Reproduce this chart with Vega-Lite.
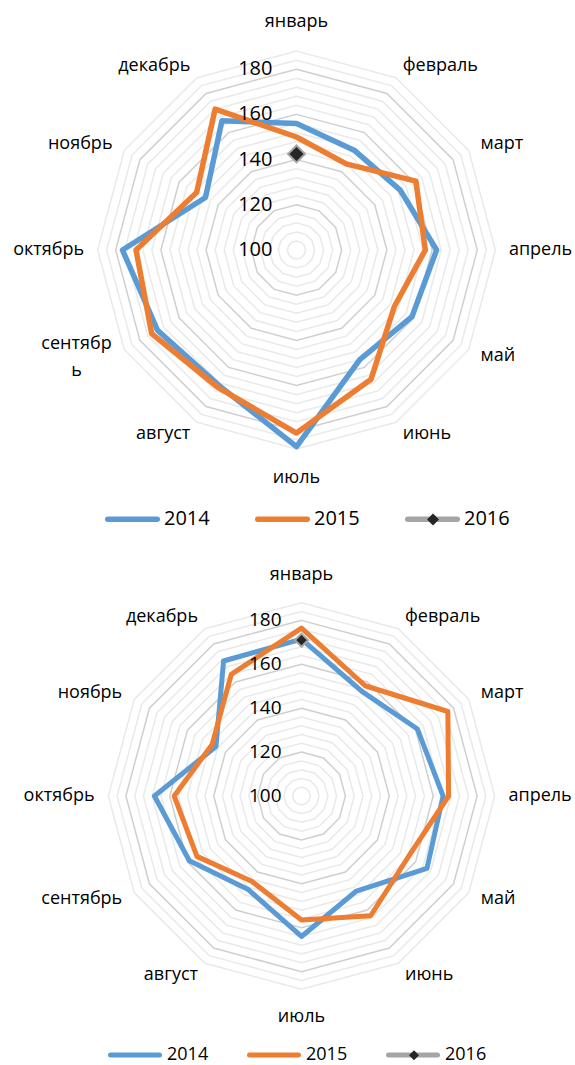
{
  "$schema": "https://vega.github.io/schema/vega-lite/v6.json",
  "padding": 0,
  "spacing": 0,
  "bounds": "flush",
  "config": {"view": {"stroke": null}, "font": "Open Sans", "text": {"color": "#000000"}},
  "datasets": {
    "top": [
      {"month": "январь", "2014": 156, "2015": 150, "2016": 142.5},
      {"month": "февраль", "2014": 151, "2015": 144},
      {"month": "март", "2014": 153, "2015": 161},
      {"month": "апрель", "2014": 162, "2015": 157},
      {"month": "май", "2014": 159, "2015": 150},
      {"month": "июнь", "2014": 156, "2015": 166},
      {"month": "июль", "2014": 187, "2015": 181},
      {"month": "август", "2014": 169, "2015": 170},
      {"month": "сентябрь", "2014": 171, "2015": 174},
      {"month": "октябрь", "2014": 177, "2015": 171},
      {"month": "ноябрь", "2014": 146.5, "2015": 151},
      {"month": "декабрь", "2014": 166, "2015": 172}
    ],
    "bottom": [
      {"month": "январь", "2014": 171.5, "2015": 176.5, "2016": 171},
      {"month": "февраль", "2014": 155, "2015": 158},
      {"month": "март", "2014": 161, "2015": 177},
      {"month": "апрель", "2014": 164.5, "2015": 167},
      {"month": "май", "2014": 166, "2015": 156},
      {"month": "июнь", "2014": 150, "2015": 163},
      {"month": "июль", "2014": 164, "2015": 156.5},
      {"month": "август", "2014": 149, "2015": 145},
      {"month": "сентябрь", "2014": 159, "2015": 155},
      {"month": "октябрь", "2014": 167, "2015": 158},
      {"month": "ноябрь", "2014": 145, "2015": 147},
      {"month": "декабрь", "2014": 171, "2015": 164}
    ],
    "ticks": [{"tick": 100}, {"tick": 120}, {"tick": 140}, {"tick": 160}, {"tick": 180}]
  },
  "resolve": {
    "scale": {"x": "independent", "y": "independent", "stroke": "independent", "shape": "independent"},
    "legend": {"stroke": "independent", "shape": "independent"}
  },
  "vconcat": [
    {
      "width": 575,
      "height": 532,
      "layer": [
        {
          "data": {"name": "top"},
          "transform": [
            {"window": [{"op": "row_number", "as": "i"}]},
            {"calculate": "[104,108,112,116,120,124,128,132,136,140,144,148,152,156,160,164,168,172,176,180,184,188]", "as": "lv"},
            {"flatten": ["lv"]},
            {"filter": "datum.lv % 20 != 0"},
            {"calculate": "(datum.i-1)*PI/6", "as": "t"},
            {"calculate": "(datum.lv-100)*sin(datum.t)", "as": "x"},
            {"calculate": "(datum.lv-100)*cos(datum.t)", "as": "y"}
          ],
          "mark": {"type": "line", "interpolate": "linear-closed", "stroke": "#e9e9e9", "strokeWidth": 1.5},
          "encoding": {
            "x": {"field": "x", "type": "quantitative", "scale": {"domain": [-131.19, 123.23], "nice": false, "zero": false}, "axis": null},
            "y": {"field": "y", "type": "quantitative", "scale": {"domain": [-124.78, 110.62], "nice": false, "zero": false}, "axis": null},
            "detail": {"field": "lv", "type": "nominal"},
            "order": {"field": "i", "type": "quantitative"}
          }
        },
        {
          "data": {"name": "top"},
          "transform": [
            {"window": [{"op": "row_number", "as": "i"}]},
            {"calculate": "[120,140,160,180]", "as": "lv"},
            {"flatten": ["lv"]},
            {"calculate": "(datum.i-1)*PI/6", "as": "t"},
            {"calculate": "(datum.lv-100)*sin(datum.t)", "as": "x"},
            {"calculate": "(datum.lv-100)*cos(datum.t)", "as": "y"}
          ],
          "mark": {"type": "line", "interpolate": "linear-closed", "stroke": "#cfcfcf", "strokeWidth": 1.5},
          "encoding": {
            "x": {"field": "x", "type": "quantitative", "scale": {"domain": [-131.19, 123.23], "nice": false, "zero": false}, "axis": null},
            "y": {"field": "y", "type": "quantitative", "scale": {"domain": [-124.78, 110.62], "nice": false, "zero": false}, "axis": null},
            "detail": {"field": "lv", "type": "nominal"},
            "order": {"field": "i", "type": "quantitative"}
          }
        },
        {
          "data": {"name": "top"},
          "transform": [
            {"window": [{"op": "row_number", "as": "i"}]},
            {"fold": ["2014", "2015"], "as": ["year", "value"]},
            {"calculate": "(datum.i-1)*PI/6", "as": "t"},
            {"calculate": "(datum.value-100)*sin(datum.t)", "as": "x"},
            {"calculate": "(datum.value-100)*cos(datum.t)", "as": "y"}
          ],
          "mark": {"type": "line", "interpolate": "linear-closed", "strokeWidth": 5.5, "strokeJoin": "round", "strokeCap": "round"},
          "encoding": {
            "x": {"field": "x", "type": "quantitative", "scale": {"domain": [-131.19, 123.23], "nice": false, "zero": false}, "axis": null},
            "y": {"field": "y", "type": "quantitative", "scale": {"domain": [-124.78, 110.62], "nice": false, "zero": false}, "axis": null},
            "order": {"field": "i", "type": "quantitative"},
            "stroke": {
              "field": "year", "type": "nominal",
              "scale": {"domain": ["2014", "2015", "2016"], "range": ["#5B9BD5", "#ED7D31", "#A5A5A5"]},
              "legend": {
                "title": null, "orient": "none", "legendX": 105, "legendY": 491.5, "direction": "horizontal",
                "symbolType": "stroke", "symbolSize": 2450, "symbolStrokeWidth": 5.5,
                "labelFontSize": 20, "labelColor": "#000000", "labelOffset": 4, "columnPadding": 36, "padding": 0,
                "encode": {"symbols": {"update": {"strokeCap": {"value": "round"}}}}
              }
            }
          }
        },
        {
          "data": {"name": "top"},
          "transform": [
            {"window": [{"op": "row_number", "as": "i"}]},
            {"fold": ["2016"], "as": ["year", "value"]},
            {"filter": "isValid(datum.value)"},
            {"calculate": "(datum.i-1)*PI/6", "as": "t"},
            {"calculate": "(datum.value-100)*sin(datum.t)", "as": "x"},
            {"calculate": "(datum.value-100)*cos(datum.t)", "as": "y"}
          ],
          "mark": {"type": "point", "filled": true, "fill": "#262626", "stroke": "#A5A5A5", "strokeWidth": 2, "size": 289, "opacity": 1},
          "encoding": {
            "x": {"field": "x", "type": "quantitative", "scale": {"domain": [-131.19, 123.23], "nice": false, "zero": false}, "axis": null},
            "y": {"field": "y", "type": "quantitative", "scale": {"domain": [-124.78, 110.62], "nice": false, "zero": false}, "axis": null},
            "shape": {
              "field": "year", "type": "nominal",
              "scale": {"domain": ["2016"], "range": ["diamond"]},
              "legend": {
                "title": null, "orient": "none", "legendX": 426, "legendY": 512.5, "zindex": 2,
                "symbolSize": 144, "symbolStrokeWidth": 1.5, "symbolFillColor": "#262626", "symbolStrokeColor": "#A5A5A5",
                "labelExpr": "''", "labelFontSize": 1, "padding": 0
              }
            }
          }
        },
        {
          "data": {"name": "ticks"},
          "transform": [{"calculate": "datum.tick-100", "as": "y"}],
          "mark": {"type": "text", "align": "right", "baseline": "middle", "dx": -24, "fontSize": 20},
          "encoding": {
            "x": {"datum": 0, "type": "quantitative", "scale": {"domain": [-131.19, 123.23], "nice": false, "zero": false}, "axis": null},
            "y": {"field": "y", "type": "quantitative", "scale": {"domain": [-124.78, 110.62], "nice": false, "zero": false}, "axis": null},
            "text": {"field": "tick", "type": "nominal"}
          }
        },
        {
          "data": {"name": "top"},
          "transform": [
            {"window": [{"op": "row_number", "as": "i"}]},
            {"filter": "datum.i >= 2 && datum.i <= 6"},
            {"calculate": "(datum.i-1)*PI/6", "as": "t"},
            {"calculate": "94*sin(datum.t)", "as": "x"},
            {"calculate": "94*cos(datum.t)", "as": "y"}
          ],
          "mark": {"type": "text", "align": "left", "baseline": "middle", "fontSize": 18},
          "encoding": {
            "x": {"field": "x", "type": "quantitative", "scale": {"domain": [-131.19, 123.23], "nice": false, "zero": false}, "axis": null},
            "y": {"field": "y", "type": "quantitative", "scale": {"domain": [-124.78, 110.62], "nice": false, "zero": false}, "axis": null},
            "text": {"field": "month", "type": "nominal"}
          }
        },
        {
          "data": {"name": "top"},
          "transform": [
            {"window": [{"op": "row_number", "as": "i"}]},
            {"filter": "datum.i == 1 || datum.i == 7"},
            {"calculate": "(datum.i-1)*PI/6", "as": "t"},
            {"calculate": "100.8*sin(datum.t)", "as": "x"},
            {"calculate": "100.8*cos(datum.t)", "as": "y"}
          ],
          "mark": {"type": "text", "align": "center", "baseline": "middle", "fontSize": 18},
          "encoding": {
            "x": {"field": "x", "type": "quantitative", "scale": {"domain": [-131.19, 123.23], "nice": false, "zero": false}, "axis": null},
            "y": {"field": "y", "type": "quantitative", "scale": {"domain": [-124.78, 110.62], "nice": false, "zero": false}, "axis": null},
            "text": {"field": "month", "type": "nominal"}
          }
        },
        {
          "data": {"name": "top"},
          "transform": [
            {"window": [{"op": "row_number", "as": "i"}]},
            {"filter": "datum.i >= 8 && datum.i != 9"},
            {"calculate": "(datum.i-1)*PI/6", "as": "t"},
            {"calculate": "94*sin(datum.t)", "as": "x"},
            {"calculate": "94*cos(datum.t)", "as": "y"}
          ],
          "mark": {"type": "text", "align": "right", "baseline": "middle", "fontSize": 18},
          "encoding": {
            "x": {"field": "x", "type": "quantitative", "scale": {"domain": [-131.19, 123.23], "nice": false, "zero": false}, "axis": null},
            "y": {"field": "y", "type": "quantitative", "scale": {"domain": [-124.78, 110.62], "nice": false, "zero": false}, "axis": null},
            "text": {"field": "month", "type": "nominal"}
          }
        },
        {
          "data": {"name": "top"},
          "transform": [
            {"window": [{"op": "row_number", "as": "i"}]},
            {"filter": "datum.i == 9"},
            {"calculate": "slice(datum.month,0,7) + '\\n' + slice(datum.month,7)", "as": "lbl"},
            {"calculate": "(datum.i-1)*PI/6", "as": "t"},
            {"calculate": "94*sin(datum.t)", "as": "x"},
            {"calculate": "94*cos(datum.t)", "as": "y"}
          ],
          "mark": {"type": "text", "align": "center", "baseline": "middle", "fontSize": 18, "dx": -36, "dy": -12, "lineBreak": "\n", "lineHeight": 27},
          "encoding": {
            "x": {"field": "x", "type": "quantitative", "scale": {"domain": [-131.19, 123.23], "nice": false, "zero": false}, "axis": null},
            "y": {"field": "y", "type": "quantitative", "scale": {"domain": [-124.78, 110.62], "nice": false, "zero": false}, "axis": null},
            "text": {"field": "lbl", "type": "nominal"}
          }
        }
      ]
    },
    {
      "width": 575,
      "height": 533,
      "layer": [
        {
          "data": {"name": "bottom"},
          "transform": [
            {"window": [{"op": "row_number", "as": "i"}]},
            {"calculate": "[104,108,112,116,120,124,128,132,136,140,144,148,152,156,160,164,168,172,176,180,184,188]", "as": "lv"},
            {"flatten": ["lv"]},
            {"filter": "datum.lv % 20 != 0"},
            {"calculate": "(datum.i-1)*PI/6", "as": "t"},
            {"calculate": "(datum.lv-100)*sin(datum.t)", "as": "x"},
            {"calculate": "(datum.lv-100)*cos(datum.t)", "as": "y"}
          ],
          "mark": {"type": "line", "interpolate": "linear-closed", "stroke": "#e9e9e9", "strokeWidth": 1.5},
          "encoding": {
            "x": {"field": "x", "type": "quantitative", "scale": {"domain": [-137.36, 124.6], "nice": false, "zero": false}, "axis": null},
            "y": {"field": "y", "type": "quantitative", "scale": {"domain": [-122.55, 120.27], "nice": false, "zero": false}, "axis": null},
            "detail": {"field": "lv", "type": "nominal"},
            "order": {"field": "i", "type": "quantitative"}
          }
        },
        {
          "data": {"name": "bottom"},
          "transform": [
            {"window": [{"op": "row_number", "as": "i"}]},
            {"calculate": "[120,140,160,180]", "as": "lv"},
            {"flatten": ["lv"]},
            {"calculate": "(datum.i-1)*PI/6", "as": "t"},
            {"calculate": "(datum.lv-100)*sin(datum.t)", "as": "x"},
            {"calculate": "(datum.lv-100)*cos(datum.t)", "as": "y"}
          ],
          "mark": {"type": "line", "interpolate": "linear-closed", "stroke": "#cfcfcf", "strokeWidth": 1.5},
          "encoding": {
            "x": {"field": "x", "type": "quantitative", "scale": {"domain": [-137.36, 124.6], "nice": false, "zero": false}, "axis": null},
            "y": {"field": "y", "type": "quantitative", "scale": {"domain": [-122.55, 120.27], "nice": false, "zero": false}, "axis": null},
            "detail": {"field": "lv", "type": "nominal"},
            "order": {"field": "i", "type": "quantitative"}
          }
        },
        {
          "data": {"name": "bottom"},
          "transform": [
            {"window": [{"op": "row_number", "as": "i"}]},
            {"fold": ["2014", "2015"], "as": ["year", "value"]},
            {"calculate": "(datum.i-1)*PI/6", "as": "t"},
            {"calculate": "(datum.value-100)*sin(datum.t)", "as": "x"},
            {"calculate": "(datum.value-100)*cos(datum.t)", "as": "y"}
          ],
          "mark": {"type": "line", "interpolate": "linear-closed", "strokeWidth": 5, "strokeJoin": "round", "strokeCap": "round"},
          "encoding": {
            "x": {"field": "x", "type": "quantitative", "scale": {"domain": [-137.36, 124.6], "nice": false, "zero": false}, "axis": null},
            "y": {"field": "y", "type": "quantitative", "scale": {"domain": [-122.55, 120.27], "nice": false, "zero": false}, "axis": null},
            "order": {"field": "i", "type": "quantitative"},
            "stroke": {
              "field": "year", "type": "nominal",
              "scale": {"domain": ["2014", "2015", "2016"], "range": ["#5B9BD5", "#ED7D31", "#A5A5A5"]},
              "legend": {
                "title": null, "orient": "none", "legendX": 108, "legendY": 496, "direction": "horizontal",
                "symbolType": "stroke", "symbolSize": 2401, "symbolStrokeWidth": 5,
                "labelFontSize": 18, "labelColor": "#000000", "labelOffset": 5, "columnPadding": 30, "padding": 0,
                "encode": {"symbols": {"update": {"strokeCap": {"value": "round"}}}}
              }
            }
          }
        },
        {
          "data": {"name": "bottom"},
          "transform": [
            {"window": [{"op": "row_number", "as": "i"}]},
            {"fold": ["2016"], "as": ["year", "value"]},
            {"filter": "isValid(datum.value)"},
            {"calculate": "(datum.i-1)*PI/6", "as": "t"},
            {"calculate": "(datum.value-100)*sin(datum.t)", "as": "x"},
            {"calculate": "(datum.value-100)*cos(datum.t)", "as": "y"}
          ],
          "mark": {"type": "point", "filled": true, "fill": "#262626", "stroke": "#A5A5A5", "strokeWidth": 2, "size": 169, "opacity": 1},
          "encoding": {
            "x": {"field": "x", "type": "quantitative", "scale": {"domain": [-137.36, 124.6], "nice": false, "zero": false}, "axis": null},
            "y": {"field": "y", "type": "quantitative", "scale": {"domain": [-122.55, 120.27], "nice": false, "zero": false}, "axis": null},
            "shape": {
              "field": "year", "type": "nominal",
              "scale": {"domain": ["2016"], "range": ["diamond"]},
              "legend": {
                "title": null, "orient": "none", "legendX": 408, "legendY": 517.2, "zindex": 2,
                "symbolSize": 100, "symbolStrokeWidth": 1.5, "symbolFillColor": "#262626", "symbolStrokeColor": "#A5A5A5",
                "labelExpr": "''", "labelFontSize": 1, "padding": 0
              }
            }
          }
        },
        {
          "data": {"name": "ticks"},
          "transform": [{"calculate": "datum.tick-100", "as": "y"}],
          "mark": {"type": "text", "align": "right", "baseline": "middle", "dx": -20, "fontSize": 19},
          "encoding": {
            "x": {"datum": 0, "type": "quantitative", "scale": {"domain": [-137.36, 124.6], "nice": false, "zero": false}, "axis": null},
            "y": {"field": "y", "type": "quantitative", "scale": {"domain": [-122.55, 120.27], "nice": false, "zero": false}, "axis": null},
            "text": {"field": "tick", "type": "nominal"}
          }
        },
        {
          "data": {"name": "bottom"},
          "transform": [
            {"window": [{"op": "row_number", "as": "i"}]},
            {"filter": "datum.i >= 2 && datum.i <= 6"},
            {"calculate": "(datum.i-1)*PI/6", "as": "t"},
            {"calculate": "94.3*sin(datum.t)", "as": "x"},
            {"calculate": "94.3*cos(datum.t)", "as": "y"}
          ],
          "mark": {"type": "text", "align": "left", "baseline": "middle", "fontSize": 18},
          "encoding": {
            "x": {"field": "x", "type": "quantitative", "scale": {"domain": [-137.36, 124.6], "nice": false, "zero": false}, "axis": null},
            "y": {"field": "y", "type": "quantitative", "scale": {"domain": [-122.55, 120.27], "nice": false, "zero": false}, "axis": null},
            "text": {"field": "month", "type": "nominal"}
          }
        },
        {
          "data": {"name": "bottom"},
          "transform": [
            {"window": [{"op": "row_number", "as": "i"}]},
            {"filter": "datum.i == 1 || datum.i == 7"},
            {"calculate": "(datum.i-1)*PI/6", "as": "t"},
            {"calculate": "100.7*sin(datum.t)", "as": "x"},
            {"calculate": "100.7*cos(datum.t)", "as": "y"}
          ],
          "mark": {"type": "text", "align": "center", "baseline": "middle", "fontSize": 18},
          "encoding": {
            "x": {"field": "x", "type": "quantitative", "scale": {"domain": [-137.36, 124.6], "nice": false, "zero": false}, "axis": null},
            "y": {"field": "y", "type": "quantitative", "scale": {"domain": [-122.55, 120.27], "nice": false, "zero": false}, "axis": null},
            "text": {"field": "month", "type": "nominal"}
          }
        },
        {
          "data": {"name": "bottom"},
          "transform": [
            {"window": [{"op": "row_number", "as": "i"}]},
            {"filter": "datum.i >= 8"},
            {"calculate": "(datum.i-1)*PI/6", "as": "t"},
            {"calculate": "94.3*sin(datum.t)", "as": "x"},
            {"calculate": "94.3*cos(datum.t)", "as": "y"}
          ],
          "mark": {"type": "text", "align": "right", "baseline": "middle", "fontSize": 18},
          "encoding": {
            "x": {"field": "x", "type": "quantitative", "scale": {"domain": [-137.36, 124.6], "nice": false, "zero": false}, "axis": null},
            "y": {"field": "y", "type": "quantitative", "scale": {"domain": [-122.55, 120.27], "nice": false, "zero": false}, "axis": null},
            "text": {"field": "month", "type": "nominal"}
          }
        }
      ]
    }
  ]
}
